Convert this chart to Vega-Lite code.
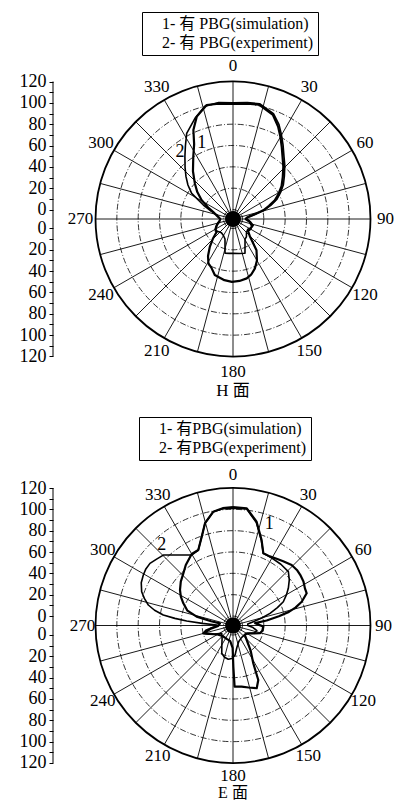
{
  "$schema": "https://vega.github.io/schema/vega-lite/v6.json",
  "autosize": {"type": "pad", "resize": false},
  "padding": {"left": 19, "top": 0, "right": 0, "bottom": 0},
  "background": "white",
  "spacing": 0,
  "bounds": "flush",
  "datasets": {
    "rings": [{"v": 0}, {"v": 20}, {"v": 40}, {"v": 60}, {"v": 80}, {"v": 100}],
    "outer": [{"v": 120}],
    "spokes": [{"a": 0}, {"a": 15}, {"a": 30}, {"a": 45}, {"a": 60}, {"a": 75}, {"a": 90}, {"a": 105}, {"a": 120}, {"a": 135}, {"a": 150}, {"a": 165}, {"a": 180}, {"a": 195}, {"a": 210}, {"a": 225}, {"a": 240}, {"a": 255}, {"a": 270}, {"a": 285}, {"a": 300}, {"a": 315}, {"a": 330}, {"a": 345}],
    "angles": [{"a": 0}, {"a": 30}, {"a": 60}, {"a": 90}, {"a": 120}, {"a": 150}, {"a": 180}, {"a": 210}, {"a": 240}, {"a": 270}, {"a": 300}, {"a": 330}],
    "hcurves": [
      {"s": "1", "a": 0, "v": 99}, {"s": "1", "a": 7, "v": 100}, {"s": "1", "a": 13, "v": 101}, {"s": "1", "a": 21, "v": 95.6}, {"s": "1", "a": 26, "v": 87.5}, {"s": "1", "a": 30, "v": 80}, {"s": "1", "a": 34, "v": 72.8}, {"s": "1", "a": 39, "v": 65}, {"s": "1", "a": 44, "v": 59}, {"s": "1", "a": 50, "v": 52}, {"s": "1", "a": 56, "v": 46}, {"s": "1", "a": 61, "v": 40}, {"s": "1", "a": 66, "v": 34}, {"s": "1", "a": 70, "v": 27}, {"s": "1", "a": 74, "v": 20.7}, {"s": "1", "a": 77, "v": 13}, {"s": "1", "a": 80, "v": 7.3}, {"s": "1", "a": 85, "v": 4}, {"s": "1", "a": 90, "v": 3}, {"s": "1", "a": 100, "v": 7}, {"s": "1", "a": 110, "v": 10}, {"s": "1", "a": 120, "v": 10}, {"s": "1", "a": 128, "v": 9}, {"s": "1", "a": 136, "v": 14}, {"s": "1", "a": 143, "v": 27.7}, {"s": "1", "a": 150, "v": 36}, {"s": "1", "a": 156, "v": 41.7}, {"s": "1", "a": 162, "v": 46}, {"s": "1", "a": 167, "v": 48.2}, {"s": "1", "a": 174, "v": 49.5}, {"s": "1", "a": 181, "v": 50}, {"s": "1", "a": 188, "v": 49}, {"s": "1", "a": 198, "v": 46.3}, {"s": "1", "a": 204, "v": 41}, {"s": "1", "a": 209, "v": 38.6}, {"s": "1", "a": 214, "v": 33}, {"s": "1", "a": 220, "v": 24.8}, {"s": "1", "a": 226, "v": 17}, {"s": "1", "a": 232, "v": 10.5}, {"s": "1", "a": 240, "v": 10}, {"s": "1", "a": 250, "v": 7}, {"s": "1", "a": 260, "v": 4}, {"s": "1", "a": 270, "v": 3}, {"s": "1", "a": 280, "v": 6}, {"s": "1", "a": 290, "v": 11}, {"s": "1", "a": 295, "v": 17}, {"s": "1", "a": 301, "v": 25.5}, {"s": "1", "a": 307, "v": 33}, {"s": "1", "a": 313, "v": 40}, {"s": "1", "a": 320, "v": 49.5}, {"s": "1", "a": 327.5, "v": 60.4}, {"s": "1", "a": 332.5, "v": 70}, {"s": "1", "a": 336, "v": 82.4}, {"s": "1", "a": 340.5, "v": 92.9}, {"s": "1", "a": 347, "v": 100.8}, {"s": "1", "a": 353, "v": 100}, {"s": "1", "a": 360, "v": 99},
      {"s": "2", "a": 0, "v": 100}, {"s": "2", "a": 7, "v": 101}, {"s": "2", "a": 13, "v": 102}, {"s": "2", "a": 21, "v": 97}, {"s": "2", "a": 26, "v": 89.5}, {"s": "2", "a": 30, "v": 82}, {"s": "2", "a": 34, "v": 75}, {"s": "2", "a": 39, "v": 67}, {"s": "2", "a": 44, "v": 61}, {"s": "2", "a": 50, "v": 54}, {"s": "2", "a": 56, "v": 48}, {"s": "2", "a": 61, "v": 42}, {"s": "2", "a": 66, "v": 36}, {"s": "2", "a": 70, "v": 29}, {"s": "2", "a": 74, "v": 22}, {"s": "2", "a": 78, "v": 13}, {"s": "2", "a": 82, "v": 7}, {"s": "2", "a": 86, "v": 4}, {"s": "2", "a": 90, "v": 4}, {"s": "2", "a": 100, "v": 8}, {"s": "2", "a": 108, "v": 11}, {"s": "2", "a": 116, "v": 10}, {"s": "2", "a": 125, "v": 8}, {"s": "2", "a": 135, "v": 9}, {"s": "2", "a": 143, "v": 12}, {"s": "2", "a": 149, "v": 13}, {"s": "2", "a": 160.7, "v": 25.1}, {"s": "2", "a": 170, "v": 24}, {"s": "2", "a": 180, "v": 23.2}, {"s": "2", "a": 186, "v": 23.5}, {"s": "2", "a": 193.1, "v": 24.1}, {"s": "2", "a": 201.8, "v": 11.3}, {"s": "2", "a": 210, "v": 9}, {"s": "2", "a": 220, "v": 8}, {"s": "2", "a": 228, "v": 9}, {"s": "2", "a": 236, "v": 11}, {"s": "2", "a": 245, "v": 9}, {"s": "2", "a": 255, "v": 6}, {"s": "2", "a": 262, "v": 4}, {"s": "2", "a": 270, "v": 3}, {"s": "2", "a": 283, "v": 6}, {"s": "2", "a": 290, "v": 13}, {"s": "2", "a": 295.3, "v": 21.8}, {"s": "2", "a": 301.8, "v": 36.7}, {"s": "2", "a": 307, "v": 44}, {"s": "2", "a": 312, "v": 50.4}, {"s": "2", "a": 317, "v": 57}, {"s": "2", "a": 322.4, "v": 65}, {"s": "2", "a": 327, "v": 73}, {"s": "2", "a": 331.6, "v": 82.4}, {"s": "2", "a": 339.3, "v": 92}, {"s": "2", "a": 346, "v": 100}, {"s": "2", "a": 353, "v": 101}, {"s": "2", "a": 360, "v": 100}
    ],
    "ecurves": [
      {"s": "1", "a": 0, "v": 102}, {"s": "1", "a": 6.7, "v": 101.7}, {"s": "1", "a": 12.8, "v": 90.9}, {"s": "1", "a": 18.5, "v": 75.6}, {"s": "1", "a": 22.8, "v": 64.5}, {"s": "1", "a": 28, "v": 64.5}, {"s": "1", "a": 33.7, "v": 66}, {"s": "1", "a": 38, "v": 67.5}, {"s": "1", "a": 44.1, "v": 70.1}, {"s": "1", "a": 49, "v": 70.5}, {"s": "1", "a": 53, "v": 70}, {"s": "1", "a": 58, "v": 69}, {"s": "1", "a": 62.7, "v": 67}, {"s": "1", "a": 66.4, "v": 66.5}, {"s": "1", "a": 70.9, "v": 59.3}, {"s": "1", "a": 74, "v": 52}, {"s": "1", "a": 76.3, "v": 45}, {"s": "1", "a": 78.5, "v": 35}, {"s": "1", "a": 81.5, "v": 23}, {"s": "1", "a": 84, "v": 12}, {"s": "1", "a": 88, "v": 15}, {"s": "1", "a": 92, "v": 19.5}, {"s": "1", "a": 100, "v": 19}, {"s": "1", "a": 106, "v": 17.4}, {"s": "1", "a": 112, "v": 11}, {"s": "1", "a": 120, "v": 6}, {"s": "1", "a": 128, "v": 5}, {"s": "1", "a": 136.6, "v": 9.8}, {"s": "1", "a": 145, "v": 20}, {"s": "1", "a": 151.8, "v": 31.3}, {"s": "1", "a": 155.1, "v": 47.4}, {"s": "1", "a": 159.3, "v": 54}, {"s": "1", "a": 166, "v": 51}, {"s": "1", "a": 172, "v": 49}, {"s": "1", "a": 178.5, "v": 48.5}, {"s": "1", "a": 179.5, "v": 30}, {"s": "1", "a": 181, "v": 12}, {"s": "1", "a": 190, "v": 6}, {"s": "1", "a": 205, "v": 5}, {"s": "1", "a": 225, "v": 5}, {"s": "1", "a": 240, "v": 8}, {"s": "1", "a": 250, "v": 14}, {"s": "1", "a": 255, "v": 19.9}, {"s": "1", "a": 262, "v": 12}, {"s": "1", "a": 268, "v": 5}, {"s": "1", "a": 279.5, "v": 3.5}, {"s": "1", "a": 281, "v": 12}, {"s": "1", "a": 283.7, "v": 26.2}, {"s": "1", "a": 288, "v": 36}, {"s": "1", "a": 294.1, "v": 42.1}, {"s": "1", "a": 299, "v": 47}, {"s": "1", "a": 303.8, "v": 50.9}, {"s": "1", "a": 310, "v": 55}, {"s": "1", "a": 316.4, "v": 58.6}, {"s": "1", "a": 322, "v": 63}, {"s": "1", "a": 330, "v": 68.5}, {"s": "1", "a": 335.3, "v": 69}, {"s": "1", "a": 340.6, "v": 79.4}, {"s": "1", "a": 344.7, "v": 90.5}, {"s": "1", "a": 350.2, "v": 99.4}, {"s": "1", "a": 355, "v": 101.5}, {"s": "1", "a": 360, "v": 102},
      {"s": "2", "a": 0, "v": 101}, {"s": "2", "a": 6.7, "v": 101}, {"s": "2", "a": 12.8, "v": 90}, {"s": "2", "a": 18.5, "v": 75}, {"s": "2", "a": 22.8, "v": 64.5}, {"s": "2", "a": 30, "v": 64}, {"s": "2", "a": 38, "v": 64}, {"s": "2", "a": 45.8, "v": 63.5}, {"s": "2", "a": 51, "v": 59}, {"s": "2", "a": 56.1, "v": 53.6}, {"s": "2", "a": 60, "v": 49}, {"s": "2", "a": 64.7, "v": 43.3}, {"s": "2", "a": 68, "v": 36}, {"s": "2", "a": 71.8, "v": 27.6}, {"s": "2", "a": 75.5, "v": 19}, {"s": "2", "a": 79.3, "v": 10.5}, {"s": "2", "a": 84, "v": 5}, {"s": "2", "a": 90, "v": 5}, {"s": "2", "a": 96, "v": 10}, {"s": "2", "a": 102, "v": 14}, {"s": "2", "a": 110, "v": 12}, {"s": "2", "a": 118, "v": 7}, {"s": "2", "a": 130, "v": 5}, {"s": "2", "a": 145, "v": 5}, {"s": "2", "a": 160, "v": 7}, {"s": "2", "a": 170, "v": 12}, {"s": "2", "a": 176, "v": 18.8}, {"s": "2", "a": 182, "v": 22}, {"s": "2", "a": 188, "v": 23}, {"s": "2", "a": 195, "v": 22}, {"s": "2", "a": 202, "v": 19.2}, {"s": "2", "a": 210, "v": 12}, {"s": "2", "a": 220, "v": 7}, {"s": "2", "a": 235, "v": 4}, {"s": "2", "a": 245, "v": 10}, {"s": "2", "a": 250, "v": 15}, {"s": "2", "a": 255.3, "v": 20}, {"s": "2", "a": 260, "v": 17}, {"s": "2", "a": 265, "v": 10}, {"s": "2", "a": 270, "v": 5}, {"s": "2", "a": 271.8, "v": 6.4}, {"s": "2", "a": 274, "v": 20}, {"s": "2", "a": 275.6, "v": 34.7}, {"s": "2", "a": 277, "v": 46}, {"s": "2", "a": 278.6, "v": 57.2}, {"s": "2", "a": 281, "v": 66}, {"s": "2", "a": 283.6, "v": 72.8}, {"s": "2", "a": 287, "v": 78}, {"s": "2", "a": 290.3, "v": 82.4}, {"s": "2", "a": 295, "v": 86}, {"s": "2", "a": 299.4, "v": 87.6}, {"s": "2", "a": 303, "v": 88.5}, {"s": "2", "a": 306.8, "v": 88.3}, {"s": "2", "a": 311, "v": 86}, {"s": "2", "a": 315.3, "v": 84}, {"s": "2", "a": 320, "v": 77.4}, {"s": "2", "a": 325, "v": 71.8}, {"s": "2", "a": 329.6, "v": 67.7}, {"s": "2", "a": 335.3, "v": 69}, {"s": "2", "a": 340.6, "v": 79.4}, {"s": "2", "a": 344.7, "v": 90.5}, {"s": "2", "a": 350.2, "v": 99.4}, {"s": "2", "a": 355, "v": 101}, {"s": "2", "a": 360, "v": 101}
    ]
  },
  "resolve": {"scale": {"color": "independent"}, "legend": {"color": "independent"}},
  "vconcat": [
    {
      "width": 347,
      "height": 400,
      "encoding": {
        "x": {"field": "px", "type": "quantitative", "scale": {"domain": [-168.75, 156.5625], "nice": false, "zero": false}, "axis": null},
        "y": {"field": "py", "type": "quantitative", "scale": {"domain": [-169.6875, 205.3125], "nice": false, "zero": false},
          "axis": {"orient": "left", "title": null, "domain": false, "grid": false, "values": [-128.9, -118.9, -108.9, -98.9, -88.9, -78.9, -68.9, -58.9, -48.9, -38.9, -28.9, -18.9, -8.9, 8.9, 18.9, 28.9, 38.9, 48.9, 58.9, 68.9, 78.9, 88.9, 98.9, 108.9, 118.9, 128.9],
            "labelExpr": "(round(abs(datum.value) - 8.9) % 20 == 0) ? format(round(abs(datum.value) - 8.9), 'd') : ''",
            "tickSize": 4, "tickColor": "black", "tickWidth": 1, "labelFont": "Liberation Serif", "labelFontSize": 18, "labelColor": "black", "labelPadding": 3, "labelOverlap": false, "labelFlush": false}}
      },
      "layer": [
        {
          "data": {"name": "rings"},
          "transform": [{"calculate": "0", "as": "px"}, {"calculate": "0", "as": "py"}, {"calculate": "datum.v + 8.9", "as": "u"}],
          "mark": {"type": "point", "shape": "circle", "filled": false, "opacity": 1, "stroke": "black", "strokeWidth": 0.8, "strokeDash": [6, 2, 1, 2]},
          "encoding": {
            "size": {"field": "u", "type": "quantitative", "scale": {"type": "pow", "exponent": 2, "domain": [0, 128.9], "range": [0, 75617.8], "zero": true, "nice": false}, "legend": null}
          }
        },
        {
          "data": {"name": "outer"},
          "transform": [{"calculate": "0", "as": "px"}, {"calculate": "0", "as": "py"}, {"calculate": "datum.v + 8.9", "as": "u"}],
          "mark": {"type": "point", "shape": "circle", "filled": false, "opacity": 1, "stroke": "black", "strokeWidth": 1.8},
          "encoding": {
            "size": {"field": "u", "type": "quantitative", "scale": {"type": "pow", "exponent": 2, "domain": [0, 128.9], "range": [0, 75617.8], "zero": true, "nice": false}, "legend": null}
          }
        },
        {
          "data": {"name": "spokes"},
          "transform": [{"calculate": "0", "as": "px"}, {"calculate": "0", "as": "py"}, {"calculate": "128.9 * sin(datum.a * PI / 180)", "as": "px2"}, {"calculate": "128.9 * cos(datum.a * PI / 180)", "as": "py2"}],
          "mark": {"type": "rule", "color": "black", "strokeWidth": 0.9},
          "encoding": {"x2": {"field": "px2"}, "y2": {"field": "py2"}}
        },
        {
          "data": {"name": "outer"},
          "transform": [{"calculate": "0", "as": "px"}, {"calculate": "0", "as": "py"}],
          "mark": {"type": "point", "shape": "circle", "filled": true, "opacity": 1, "color": "black", "size": 256},
          "encoding": {}
        },
        {
          "data": {"name": "outer"},
          "transform": [{"calculate": "-168.75", "as": "px"}, {"calculate": "-128.9", "as": "py"}, {"calculate": "128.9", "as": "py2"}],
          "mark": {"type": "rule", "color": "black", "strokeWidth": 1},
          "encoding": {"y2": {"field": "py2"}}
        },
        {
          "data": {"name": "hcurves"},
          "transform": [{"calculate": "(datum.v + 8.9) * sin(datum.a * PI / 180)", "as": "px"}, {"calculate": "(datum.v + 8.9) * cos(datum.a * PI / 180)", "as": "py"}],
          "mark": {"type": "line", "strokeJoin": "round"},
          "encoding": {
            "order": {"field": "a", "type": "quantitative"},
            "color": {"field": "s", "type": "nominal", "scale": {"domain": ["1", "2"], "range": ["black", "black"]},
              "legend": {"orient": "none", "legendX": 89, "legendY": 12, "title": null, "labelExpr": "datum.label == '1' ? '1- 有 PBG(simulation)' : '2- 有 PBG(experiment)'",
                "strokeColor": "black", "fillColor": "white", "padding": 4, "rowPadding": 3, "labelFont": "Liberation Serif, Noto Sans CJK SC", "labelFontSize": 16, "labelColor": "black", "symbolSize": 0, "symbolStrokeWidth": 0, "symbolOpacity": 0, "labelOffset": 0}},
            "strokeWidth": {"condition": {"test": "datum.s == '1'", "value": 2.2}, "value": 1.6}
          }
        },
        {
          "data": {"name": "angles"},
          "transform": [{"calculate": "143 * sin(datum.a * PI / 180)", "as": "px"}, {"calculate": "143 * cos(datum.a * PI / 180)", "as": "py"}],
          "mark": {"type": "text", "font": "Liberation Serif", "fontSize": 17, "color": "black", "align": "center", "baseline": "middle"},
          "encoding": {"text": {"field": "a", "type": "quantitative"}}
        },
        {
          "data": {"name": "outer"},
          "transform": [{"calculate": "0", "as": "px"}, {"calculate": "-160.8", "as": "py"}],
          "mark": {"type": "text", "text": "H 面", "font": "Liberation Serif, Noto Sans CJK SC", "fontSize": 17, "color": "black", "align": "center", "baseline": "middle"},
          "encoding": {}
        },
        {
          "data": {"name": "outer"},
          "transform": [{"calculate": "-29.3", "as": "px"}, {"calculate": "71", "as": "py"}],
          "mark": {"type": "text", "text": "1", "font": "Liberation Serif", "fontSize": 18, "color": "black", "align": "center", "baseline": "middle"},
          "encoding": {}
        },
        {
          "data": {"name": "outer"},
          "transform": [{"calculate": "-49.7", "as": "px"}, {"calculate": "63.1", "as": "py"}],
          "mark": {"type": "text", "text": "2", "font": "Liberation Serif", "fontSize": 18, "color": "black", "align": "center", "baseline": "middle"},
          "encoding": {}
        }
      ]
    },
    {
      "width": 347,
      "height": 404,
      "encoding": {
        "x": {"field": "px", "type": "quantitative", "scale": {"domain": [-168.75, 156.5625], "nice": false, "zero": false}, "axis": null},
        "y": {"field": "py", "type": "quantitative", "scale": {"domain": [-167.34375, 211.40625], "nice": false, "zero": false},
          "axis": {"orient": "left", "title": null, "domain": false, "grid": false, "values": [-128.9, -118.9, -108.9, -98.9, -88.9, -78.9, -68.9, -58.9, -48.9, -38.9, -28.9, -18.9, -8.9, 8.9, 18.9, 28.9, 38.9, 48.9, 58.9, 68.9, 78.9, 88.9, 98.9, 108.9, 118.9, 128.9],
            "labelExpr": "(round(abs(datum.value) - 8.9) % 20 == 0) ? format(round(abs(datum.value) - 8.9), 'd') : ''",
            "tickSize": 4, "tickColor": "black", "tickWidth": 1, "labelFont": "Liberation Serif", "labelFontSize": 18, "labelColor": "black", "labelPadding": 3, "labelOverlap": false, "labelFlush": false}}
      },
      "layer": [
        {
          "data": {"name": "rings"},
          "transform": [{"calculate": "0", "as": "px"}, {"calculate": "0", "as": "py"}, {"calculate": "datum.v + 8.9", "as": "u"}],
          "mark": {"type": "point", "shape": "circle", "filled": false, "opacity": 1, "stroke": "black", "strokeWidth": 0.8, "strokeDash": [6, 2, 1, 2]},
          "encoding": {
            "size": {"field": "u", "type": "quantitative", "scale": {"type": "pow", "exponent": 2, "domain": [0, 128.9], "range": [0, 75617.8], "zero": true, "nice": false}, "legend": null}
          }
        },
        {
          "data": {"name": "outer"},
          "transform": [{"calculate": "0", "as": "px"}, {"calculate": "0", "as": "py"}, {"calculate": "datum.v + 8.9", "as": "u"}],
          "mark": {"type": "point", "shape": "circle", "filled": false, "opacity": 1, "stroke": "black", "strokeWidth": 1.8},
          "encoding": {
            "size": {"field": "u", "type": "quantitative", "scale": {"type": "pow", "exponent": 2, "domain": [0, 128.9], "range": [0, 75617.8], "zero": true, "nice": false}, "legend": null}
          }
        },
        {
          "data": {"name": "spokes"},
          "transform": [{"calculate": "0", "as": "px"}, {"calculate": "0", "as": "py"}, {"calculate": "128.9 * sin(datum.a * PI / 180)", "as": "px2"}, {"calculate": "128.9 * cos(datum.a * PI / 180)", "as": "py2"}],
          "mark": {"type": "rule", "color": "black", "strokeWidth": 0.9},
          "encoding": {"x2": {"field": "px2"}, "y2": {"field": "py2"}}
        },
        {
          "data": {"name": "outer"},
          "transform": [{"calculate": "0", "as": "px"}, {"calculate": "0", "as": "py"}],
          "mark": {"type": "point", "shape": "circle", "filled": true, "opacity": 1, "color": "black", "size": 256},
          "encoding": {}
        },
        {
          "data": {"name": "outer"},
          "transform": [{"calculate": "-168.75", "as": "px"}, {"calculate": "-128.9", "as": "py"}, {"calculate": "128.9", "as": "py2"}],
          "mark": {"type": "rule", "color": "black", "strokeWidth": 1},
          "encoding": {"y2": {"field": "py2"}}
        },
        {
          "data": {"name": "ecurves"},
          "transform": [{"calculate": "(datum.v + 8.9) * sin(datum.a * PI / 180)", "as": "px"}, {"calculate": "(datum.v + 8.9) * cos(datum.a * PI / 180)", "as": "py"}],
          "mark": {"type": "line", "strokeJoin": "round"},
          "encoding": {
            "order": {"field": "a", "type": "quantitative"},
            "color": {"field": "s", "type": "nominal", "scale": {"domain": ["1", "2"], "range": ["black", "black"]},
              "legend": {"orient": "none", "legendX": 86, "legendY": 17, "title": null, "labelExpr": "datum.label == '1' ? '1- 有PBG(simulation)' : '2- 有PBG(experiment)'",
                "strokeColor": "black", "fillColor": "white", "padding": 4, "rowPadding": 3, "labelFont": "Liberation Serif, Noto Sans CJK SC", "labelFontSize": 16, "labelColor": "black", "symbolSize": 0, "symbolStrokeWidth": 0, "symbolOpacity": 0, "labelOffset": 0}},
            "strokeWidth": {"condition": {"test": "datum.s == '1'", "value": 2.2}, "value": 1.6}
          }
        },
        {
          "data": {"name": "angles"},
          "transform": [{"calculate": "141 * sin(datum.a * PI / 180)", "as": "px"}, {"calculate": "141 * cos(datum.a * PI / 180)", "as": "py"}],
          "mark": {"type": "text", "font": "Liberation Serif", "fontSize": 17, "color": "black", "align": "center", "baseline": "middle"},
          "encoding": {"text": {"field": "a", "type": "quantitative"}}
        },
        {
          "data": {"name": "outer"},
          "transform": [{"calculate": "0", "as": "px"}, {"calculate": "-157.3", "as": "py"}],
          "mark": {"type": "text", "text": "E 面", "font": "Liberation Serif, Noto Sans CJK SC", "fontSize": 16, "color": "black", "align": "center", "baseline": "middle"},
          "encoding": {}
        },
        {
          "data": {"name": "outer"},
          "transform": [{"calculate": "34.1", "as": "px"}, {"calculate": "95.2", "as": "py"}],
          "mark": {"type": "text", "text": "1", "font": "Liberation Serif", "fontSize": 18, "color": "black", "align": "center", "baseline": "middle"},
          "encoding": {}
        },
        {
          "data": {"name": "outer"},
          "transform": [{"calculate": "-66.9", "as": "px"}, {"calculate": "75.5", "as": "py"}],
          "mark": {"type": "text", "text": "2", "font": "Liberation Serif", "fontSize": 18, "color": "black", "align": "center", "baseline": "middle"},
          "encoding": {}
        }
      ]
    }
  ],
  "config": {"view": {"stroke": null}}
}
